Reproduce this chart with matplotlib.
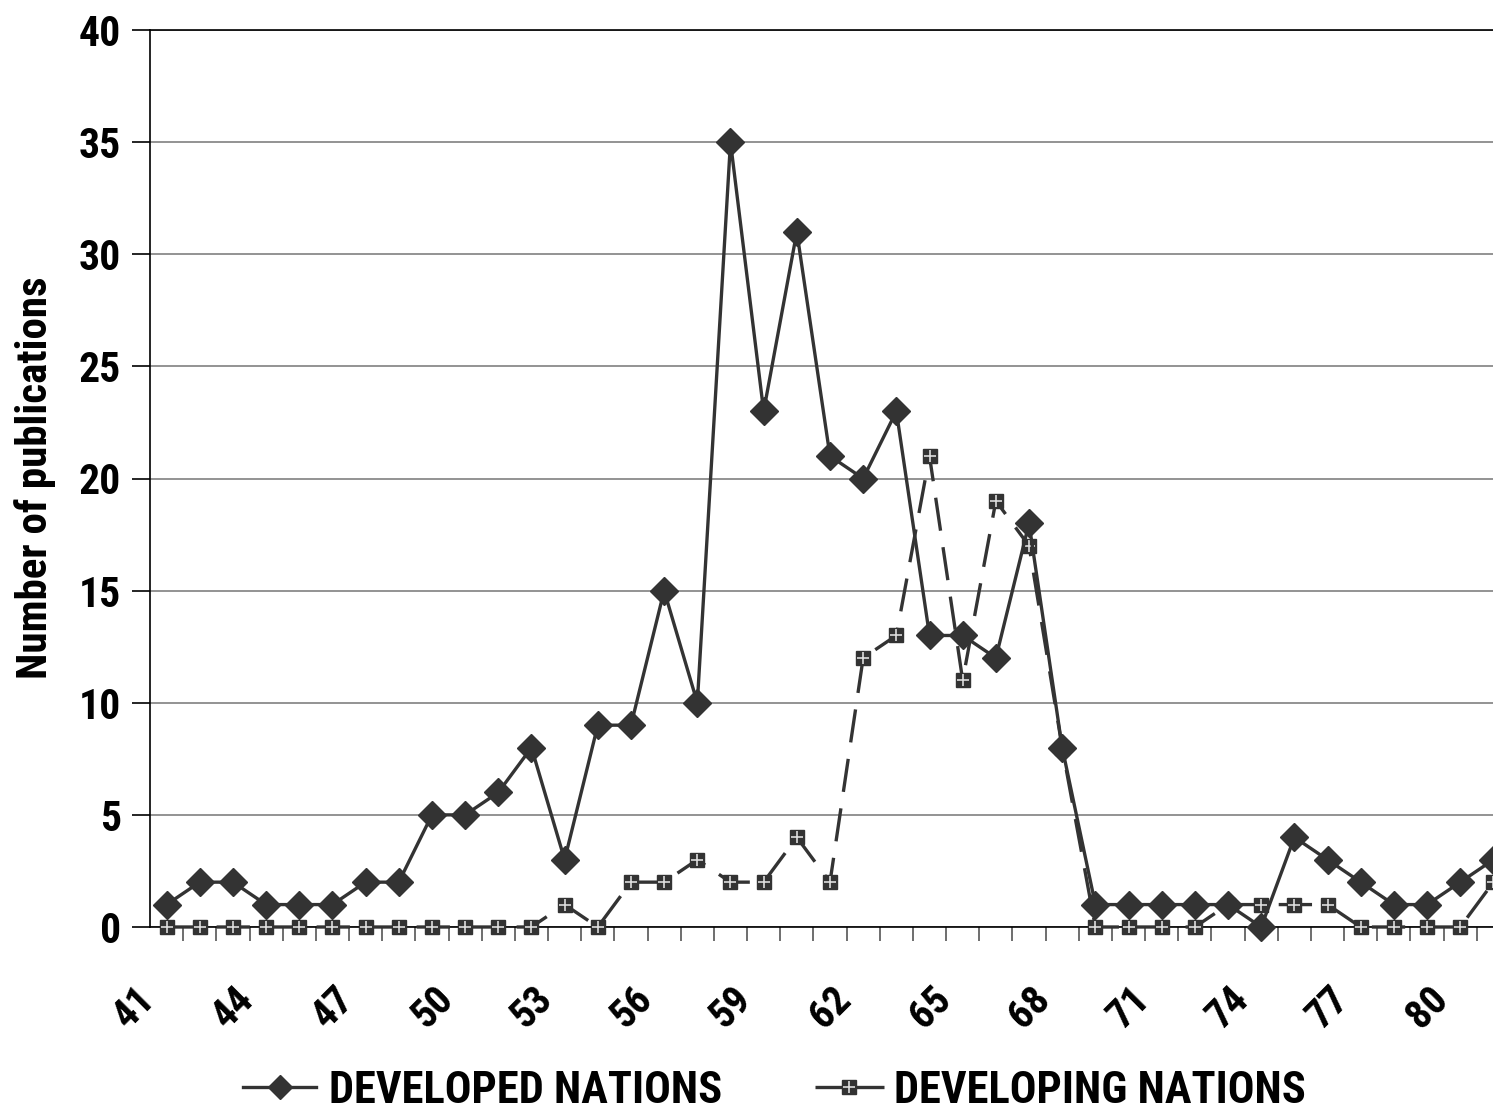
import matplotlib
matplotlib.use("Agg")
import matplotlib.pyplot as plt
from matplotlib import font_manager
from matplotlib.lines import Line2D
from matplotlib.transforms import ScaledTranslation

years = list(range(41, 82))
developed = [1, 2, 2, 1, 1, 1, 2, 2, 5, 5, 6, 8, 3, 9, 9, 15, 10, 35, 23, 31,
             21, 20, 23, 13, 13, 12, 18, 8, 1, 1, 1, 1, 1, 0, 4, 3, 2, 1, 1, 2, 3]
developing = [0, 0, 0, 0, 0, 0, 0, 0, 0, 0, 0, 0, 1, 0, 2, 2, 3, 2, 2, 4,
              2, 12, 13, 21, 11, 19, 17, 8, 0, 0, 0, 0, 1, 1, 1, 1, 0, 0, 0, 0, 2]
tick_labels = [str(y) for y in range(41, 82, 3)]
series_names = ["DEVELOPED NATIONS", "DEVELOPING NATIONS"]
y_label = "Number of publications"

fonts = font_manager.fontManager.ttflist
names = {f.name for f in fonts}
narrow = None
for cand in ["Liberation Sans Narrow", "Arial Narrow", "Roboto Condensed", "Barlow Semi Condensed"]:
    if cand in names:
        narrow = cand
        break
if narrow is None:
    nfont = dict(family="DejaVu Sans", stretch="condensed", weight="bold")
else:
    nfont = dict(family=[narrow, "DejaVu Sans"], weight="bold")
plt.rcParams['font.family'] = ["Liberation Sans", "DejaVu Sans"]

W, H = 1493, 1113
fig = plt.figure(figsize=(W / 100, H / 100), dpi=100)
left, right, top, bottom = 150, 1510, 30, 927
ax = fig.add_axes([left / W, 1 - bottom / H, (right - left) / W, (bottom - top) / H])

x = list(range(len(years)))
col = "#333333"
ax.plot(x, developed, color=col, lw=2.4, marker="D", markersize=14,
        markerfacecolor=col, markeredgecolor=col, zorder=4, clip_on=False)
ax.plot(x, developing, color=col, lw=2.4, ls=(0, (10, 5)), marker="s", markersize=10,
        markerfacecolor=col, markeredgecolor=col, zorder=3, clip_on=False)
ax.plot(x, developing, ls="none", marker="+", markersize=8, markeredgewidth=1.2,
        color="#dddddd", zorder=3.5, clip_on=False)

ax.set_xlim(-0.5, len(years) - 0.5)
ax.set_ylim(0, 40)
ax.set_yticks(range(0, 41, 5))
ax.yaxis.grid(True, color="#808080", lw=1.2)
ax.set_axisbelow(True)

ax.set_xticks([i + 0.5 for i in range(len(years))], minor=True)
ax.set_xticks([years.index(int(t)) for t in tick_labels])
ax.set_xticklabels(tick_labels, rotation=45, ha="right", va="center",
                   rotation_mode="anchor", fontsize=29, **nfont)
ax.tick_params(axis="x", which="major", length=0, pad=48)
ax.tick_params(axis="x", which="minor", length=10, width=1.2, color="#555555")
ax.tick_params(axis="y", length=13, width=1.2, pad=8)
shift = ScaledTranslation(-18 / 100, 0, fig.dpi_scale_trans)
for lab in ax.get_xticklabels():
    lab.set_transform(lab.get_transform() + shift)
for lab in ax.get_yticklabels():
    lab.set_fontsize(30)
    lab.set_fontweight("bold")
    if narrow is None:
        lab.set_family("DejaVu Sans"); lab.set_stretch("condensed")
    else:
        lab.set_family([narrow, "DejaVu Sans"])

for s in ["top", "right"]:
    ax.spines[s].set_visible(False)
for s in ["left", "bottom"]:
    ax.spines[s].set_color("black")
    ax.spines[s].set_linewidth(1.2)
ax.axhline(40, color="black", lw=1.2, zorder=1, clip_on=False)

fig.text(35 / W, 1 - 478 / H, y_label, rotation=90, ha="center",
         va="center", fontsize=31, **nfont)

lfont = font_manager.FontProperties(size=32, **nfont)
h1 = Line2D([], [], color=col, lw=2.4, marker="D", markersize=12)
h2 = Line2D([], [], color=col, lw=2.4, ls=(0, (9, 2.4, 14, 2)), marker="s", markersize=10)
h2p = Line2D([], [], ls="none", marker="+", markersize=8, markeredgewidth=1.2, color="#dddddd")
leg1 = fig.legend([h1], [series_names[0]], loc="center left",
                  bbox_to_anchor=(243 / W, 1 - 1091 / H), frameon=False, prop=lfont,
                  handlelength=1.65, handletextpad=0.28, borderpad=0, borderaxespad=0)
leg2 = fig.legend([(h2, h2p)], [series_names[1]], loc="center left",
                  bbox_to_anchor=(815 / W, 1 - 1091 / H), frameon=False, prop=lfont,
                  handlelength=1.55, handletextpad=0.22, borderpad=0, borderaxespad=0)

fig.savefig("out.png", dpi=100)
